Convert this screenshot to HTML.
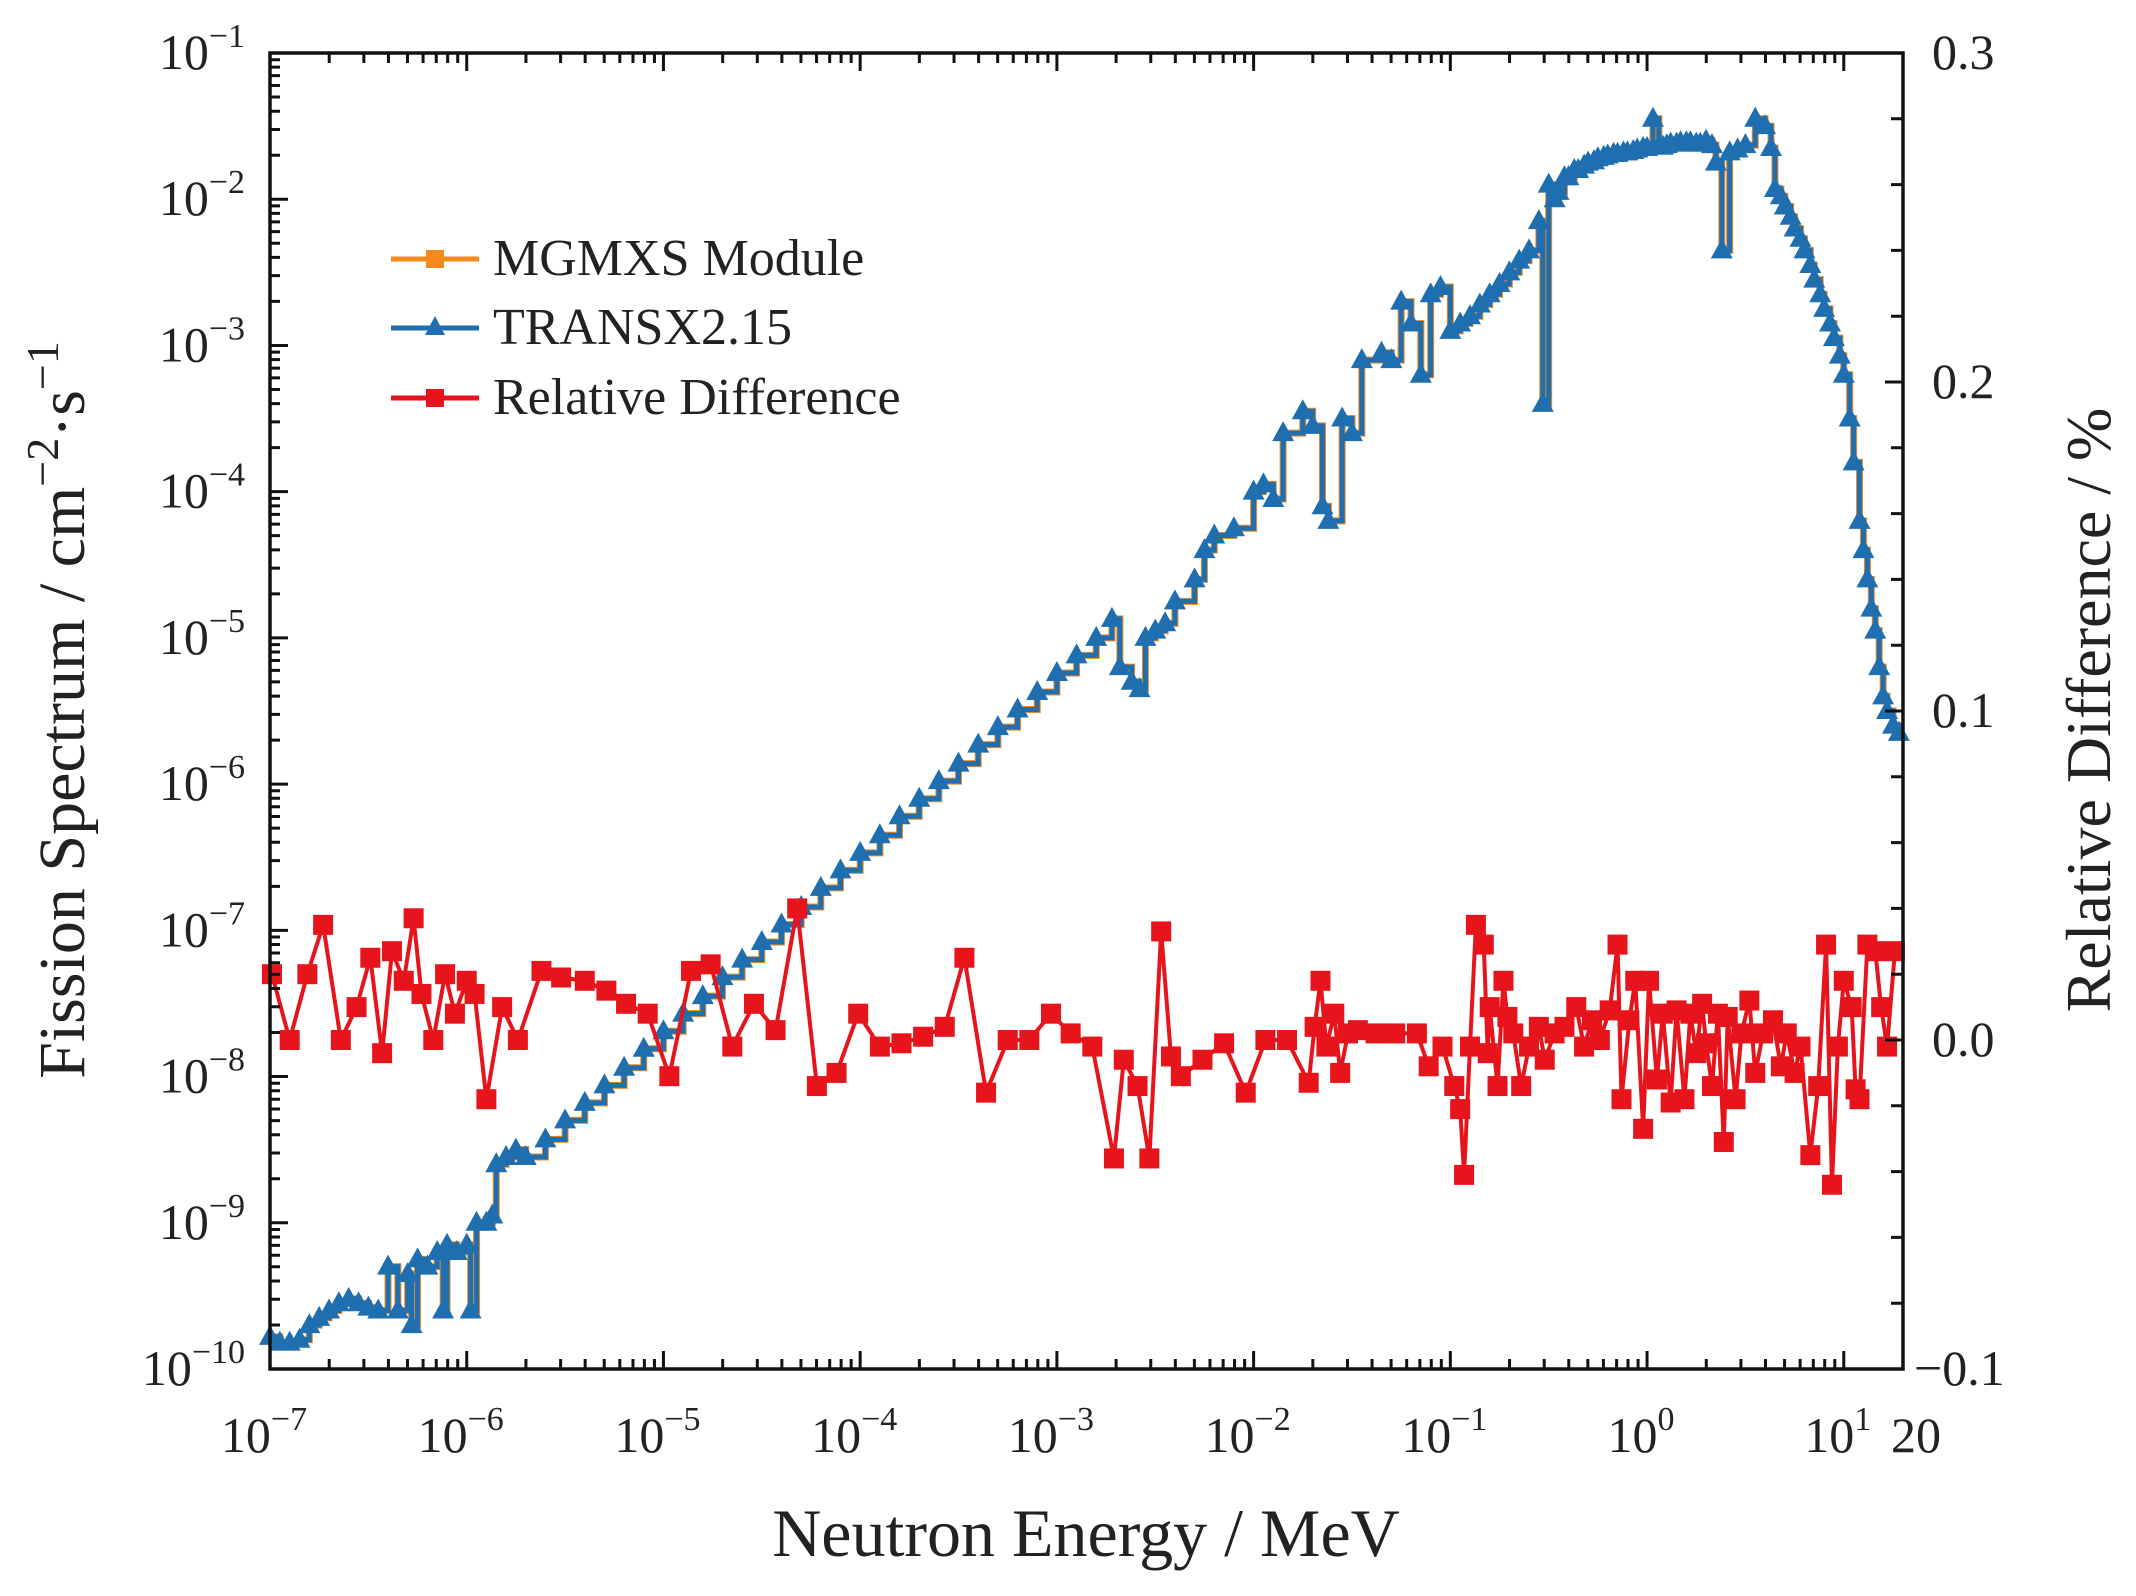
<!DOCTYPE html>
<html><head><meta charset="utf-8">
<style>
html,body{margin:0;padding:0;background:#fff;}
svg{display:block;font-family:"Liberation Serif",serif;}
</style></head>
<body>
<svg id="chart" width="2136" height="1596" viewBox="0 0 2136 1596" xmlns="http://www.w3.org/2000/svg">
<rect width="2136" height="1596" fill="#fff"/>
<g id="marks"></g>
<g id="axes"></g>
<g>
  <g>
    <line x1="391" y1="259" x2="479" y2="259" stroke="#f28a1c" stroke-width="5"/>
    <rect x="426" y="250" width="18" height="18" fill="#f28a1c"/>
    <text x="493" y="275" font-size="52" fill="#222">MGMXS Module</text>
  </g>
  <g>
    <line x1="391" y1="328" x2="479" y2="328" stroke="#1f6fb0" stroke-width="5"/>
    <polygon points="435,316 445,335 425,335" fill="#1f6fb0"/>
    <text x="493" y="344" font-size="52" fill="#222">TRANSX2.15</text>
  </g>
  <g>
    <line x1="391" y1="398" x2="479" y2="398" stroke="#e8141c" stroke-width="5"/>
    <rect x="426" y="389" width="18" height="18" fill="#e8141c"/>
    <text x="493" y="414" font-size="52" fill="#222">Relative Difference</text>
  </g>
</g>
<text x="1086" y="1556" font-size="68" text-anchor="middle" fill="#222">Neutron Energy / MeV</text>
<text transform="translate(84,710) rotate(-90)" font-size="66" text-anchor="middle" fill="#222">Fission Spectrum / cm<tspan dy="-26" font-size="46">−2</tspan><tspan dy="26">·s</tspan><tspan dy="-26" font-size="46">−1</tspan></text>
<text transform="translate(2110,710) rotate(-90)" font-size="64" text-anchor="middle" fill="#222">Relative Difference / %</text>
</svg>
<script>
// ---- data ----
const blueLogE = [-7.0,-6.95,-6.9,-6.85,-6.8,-6.75,-6.7,-6.65,-6.6,-6.55,-6.5,-6.45,-6.4,-6.35,-6.3,-6.28,-6.25,-6.2,-6.15,-6.12,-6.1,-6.05,-6.0,-5.98,-5.95,-5.9,-5.87,-5.85,-5.8,-5.75,
 -5.7,-5.6,-5.5,-5.4,-5.3,-5.2,-5.1,-5.0,-4.9,-4.8,-4.7,-4.6,-4.5,-4.4,-4.3,-4.2,-4.1,-4.0,-3.9,-3.8,-3.7,-3.6,-3.5,-3.4,-3.3,-3.2,-3.1,-3.0,-2.9,-2.8,-2.72,
 -2.68,-2.62,-2.58,-2.55,-2.5,-2.45,-2.4,-2.3,-2.25,-2.2,-2.1,-2.0,-1.95,-1.9,-1.85,-1.75,-1.7,-1.65,-1.62,-1.55,-1.5,-1.45,-1.35,-1.3,-1.25,-1.2,-1.15,-1.1,-1.05,-1.0,-0.95,-0.9,-0.85,-0.8,-0.75,-0.7,-0.65,-0.6,-0.55,-0.53,-0.5,-0.47,-0.45,-0.42,-0.4,-0.37,-0.35,-0.32,-0.3,-0.27,-0.25,-0.22,-0.2,-0.17,-0.15,-0.12,-0.1,-0.07,-0.05,-0.02,0.0,0.03,0.06,0.08,0.1,0.12,0.15,0.17,0.2,0.22,0.25,0.27,0.3,0.33,0.35,0.38,0.42,0.46,0.5,0.55,0.6,0.63,0.65,0.68,0.7,0.73,0.75,0.78,0.8,0.83,0.85,0.88,0.9,0.93,0.95,0.98,1.0,1.03,1.05,1.08,1.1,1.12,1.14,1.16,1.18,1.2,1.22,1.25,1.28];
const blueLogF = [-9.78,-9.82,-9.82,-9.8,-9.7,-9.65,-9.6,-9.55,-9.52,-9.55,-9.58,-9.6,-9.3,-9.6,-9.35,-9.7,-9.25,-9.3,-9.2,-9.6,-9.15,-9.2,-9.15,-9.6,-9.0,-9.0,-8.95,-8.6,-8.55,-8.5,
 -8.55,-8.43,-8.30,-8.18,-8.06,-7.94,-7.81,-7.69,-7.57,-7.45,-7.32,-7.20,-7.08,-6.96,-6.84,-6.71,-6.59,-6.47,-6.35,-6.22,-6.10,-5.98,-5.86,-5.73,-5.61,-5.49,-5.37,-5.24,-5.12,-5.0,-4.87,
 -5.2,-5.3,-5.35,-5.0,-4.95,-4.9,-4.75,-4.6,-4.4,-4.3,-4.25,-4.0,-3.95,-4.05,-3.6,-3.45,-3.55,-4.1,-4.2,-3.5,-3.6,-3.1,-3.05,-3.1,-2.7,-2.85,-3.2,-2.65,-2.6,-2.9,-2.85,-2.8,-2.72,-2.65,-2.58,-2.5,-2.42,-2.35,-2.15,-3.4,-1.9,-2.0,-1.95,-1.85,-1.85,-1.8,-1.8,-1.77,-1.75,-1.74,-1.72,-1.71,-1.7,-1.69,-1.69,-1.68,-1.68,-1.67,-1.66,-1.65,-1.65,-1.45,-1.64,-1.64,-1.63,-1.62,-1.62,-1.61,-1.61,-1.61,-1.62,-1.62,-1.6,-1.63,-1.75,-2.35,-1.68,-1.66,-1.63,-1.45,-1.5,-1.65,-1.93,-1.98,-2.05,-2.12,-2.2,-2.27,-2.35,-2.45,-2.55,-2.65,-2.75,-2.85,-2.95,-3.07,-3.2,-3.5,-3.8,-4.2,-4.4,-4.6,-4.8,-4.95,-5.2,-5.4,-5.5,-5.6,-5.65];
const redLogE = [-6.99,-6.90,-6.81,-6.73,-6.64,-6.56,-6.49,-6.43,-6.38,-6.32,-6.27,-6.23,-6.17,-6.11,-6.06,-6.00,-5.96,-5.90,-5.82,-5.74,-5.62,-5.52,-5.40,-5.29,-5.19,-5.08,-4.97,-4.86,-4.76,-4.65,-4.54,-4.43,-4.32,-4.22,-4.12,-4.01,-3.90,-3.79,-3.68,-3.57,-3.47,-3.36,-3.25,-3.14,-3.03,-2.93,-2.82,-2.71,-2.66,-2.59,-2.53,-2.47,-2.42,-2.37,-2.26,-2.15,-2.04,-1.94,-1.83,-1.72,-1.69,-1.66,-1.63,-1.59,-1.56,-1.52,-1.47,-1.38,-1.28,-1.17,-1.11,-1.04,-0.98,-0.95,-0.93,-0.90,-0.87,-0.83,-0.81,-0.80,-0.76,-0.73,-0.71,-0.68,-0.64,-0.60,-0.55,-0.52,-0.47,-0.42,-0.36,-0.32,-0.28,-0.24,-0.19,-0.15,-0.13,-0.09,-0.06,-0.02,0.01,0.05,0.08,0.12,0.15,0.19,0.22,0.25,0.28,0.30,0.33,0.36,0.39,0.41,0.45,0.48,0.52,0.55,0.59,0.64,0.68,0.71,0.75,0.78,0.83,0.87,0.91,0.94,0.97,1.00,1.04,1.06,1.08,1.12,1.16,1.19,1.22,1.26];
const redDiff = [.020,0,.020,.035,0,.010,.025,-.004,.027,.018,.037,.014,0,.020,.008,.018,.014,-.018,.010,0,.021,.019,.018,.015,.011,.008,-.011,.021,.023,-.002,.011,.003,.040,-.014,-.010,.008,-.002,-.001,.001,.004,.025,-.016,0,0,.008,.002,-.002,-.036,-.006,-.014,-.036,.033,-.005,-.011,-.006,-.001,-.016,0,0,-.013,.004,.018,-.002,.008,-.010,.002,.003,.002,.002,.002,-.008,-.002,-.014,-.021,-.041,-.002,.035,.029,-.004,.010,-.014,.018,.007,.002,-.014,-.002,.004,-.006,.002,.004,.010,-.002,.006,0,.009,.029,-.018,.006,.018,-.027,.018,-.012,.008,-.019,.009,-.018,.008,-.004,.011,-.001,-.014,.008,-.031,.007,-.018,.002,.012,-.010,.002,.006,-.008,.002,-.010,-.002,-.035,-.014,.029,-.044,-.002,.018,.010,-.015,-.018,.029,.027,.010,-.002,.027];
const xTickExps = [-7,-6,-5,-4,-3,-2,-1,0,1];
const yTickExps = [-1,-2,-3,-4,-5,-6,-7,-8,-9,-10];
const rTickLabels = ["0.3","0.2","0.1","0.0","−0.1"];
const rTickValues = [0.3,0.2,0.1,0.0,-0.1];

// ---- scales ----
const L=270,R=1903,T=53,B=1369;
const xMin=-7,xMax=Math.log10(20);
const X=le=>L+(le-xMin)/(xMax-xMin)*(R-L);
const Y=lf=>T+(-1-lf)/9*(B-T);
const YR=v=>B-(v+0.1)/0.4*(B-T);
const NS="http://www.w3.org/2000/svg";
function mk(tag,attrs,parent){const e=document.createElementNS(NS,tag);for(const k in attrs)e.setAttribute(k,attrs[k]);parent.appendChild(e);return e;}
const marks=document.getElementById('marks'), axes=document.getElementById('axes');

function stepPath(xs,ys){let d='';for(let i=0;i<xs.length;i++){const x=X(xs[i]),y=Y(ys[i]);if(i===0)d+=`M${x},${y}`;else d+=`H${x}V${y}`;}return d;}
const orange=mk('path',{d:stepPath(blueLogE,blueLogF),fill:'none',stroke:'#f28a1c','stroke-width':7},marks);


const blue=mk('path',{d:stepPath(blueLogE,blueLogF),fill:'none',stroke:'#1f6fb0','stroke-width':5},marks);


for(let i=0;i<blueLogE.length;i++){
  const x=X(blueLogE[i]),y=Y(blueLogF[i]);
  const p=mk('polygon',{points:`${x},${y-12} ${x+11},${y+8} ${x-11},${y+8}`,fill:'#1f6fb0'},marks);
  
  
}
let rd='';
for(let i=0;i<redLogE.length;i++){rd+=(i?'L':'M')+X(redLogE[i])+','+YR(redDiff[i]);}
const red=mk('path',{d:rd,fill:'none',stroke:'#e8141c','stroke-width':4},marks);


for(let i=0;i<redLogE.length;i++){
  const r=mk('rect',{x:X(redLogE[i])-10,y:YR(redDiff[i])-10,width:20,height:20,fill:'#e8141c'},marks);
  
  
}

// ---- axes ----
const frame=mk('rect',{x:L,y:T,width:R-L,height:B-T,fill:'none',stroke:'#111','stroke-width':3.5},axes);


let td='';
for(const e of xTickExps){
  const x=X(e); td+=`M${x},${B}V${B-18}M${x},${T}V${T+18}`;
  for(let m=2;m<=9;m++){const le=e+Math.log10(m);if(le>xMax)break;const xm=X(le);td+=`M${xm},${B}V${B-10}M${xm},${T}V${T+10}`;}
}
for(let e=-10;e<=-1;e++){
  const y=Y(e); td+=`M${L},${y}H${L+18}`;
  if(e<-1)for(let m=2;m<=9;m++){const ym=Y(e+Math.log10(m));td+=`M${L},${ym}H${L+10}`;}
}
for(let k=0;k<=20;k++){const v=-0.1+k*0.02;const y=YR(v);td+=`M${R},${y}H${R-(k%5===0?18:12)}`;}
const ticks=mk('path',{d:td,stroke:'#111','stroke-width':3,fill:'none'},axes);


for(const e of xTickExps){
  const t=mk('text',{x:X(e)-6,y:1452,'font-size':50,'text-anchor':'middle',fill:'#222'},axes);
  t.textContent='10';
  const s=mk('tspan',{dy:-22,'font-size':34},t); s.textContent=e<0?'−'+(-e):String(e);
  
  
}
const t20=mk('text',{x:1916,y:1452,'font-size':50,'text-anchor':'middle',fill:'#222'},axes);
t20.textContent='20';


for(const e of yTickExps){
  const t=mk('text',{x:245,y:Y(e)+16,'font-size':50,'text-anchor':'end',fill:'#222'},axes);
  t.textContent='10';
  const s=mk('tspan',{dy:-22,'font-size':34},t); s.textContent='−'+(-e);
  
  
}
for(let i=0;i<rTickValues.length;i++){
  const t=mk('text',{x:rTickValues[i]<0?1914:1932,y:YR(rTickValues[i])+16,'font-size':50,fill:'#222'},axes);
  t.textContent=rTickLabels[i];
  
  
}
</script>
</body></html>
